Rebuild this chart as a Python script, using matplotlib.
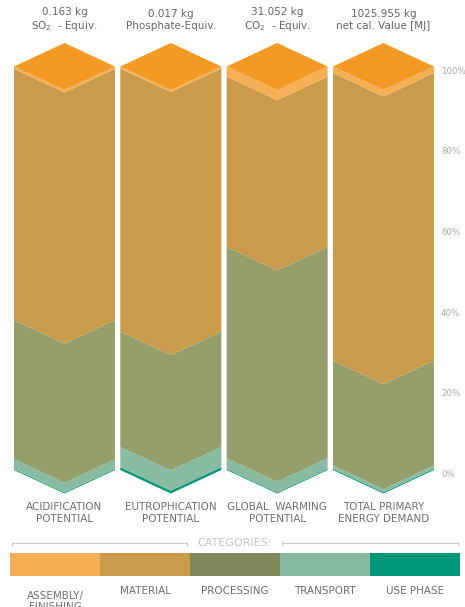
import matplotlib.pyplot as plt
from matplotlib.patches import Polygon
from matplotlib.lines import Line2D
from matplotlib.transforms import blended_transform_factory as blend

plt.rcParams['font.family'] = ['Liberation Sans Narrow', 'DejaVu Sans']

# Data (percent of each impact category)
columns = ['ACIDIFICATION\nPOTENTIAL', 'EUTROPHICATION\nPOTENTIAL',
           'GLOBAL  WARMING\nPOTENTIAL', 'TOTAL PRIMARY\nENERGY DEMAND']
headers = ['0.163 kg\nSO$_2$  - Equiv.', '0.017 kg\nPhosphate-Equiv.',
           '31.052 kg\nCO$_2$  - Equiv.', '1025.955 kg\nnet cal. Value [MJ]']
# stacked from bottom: use phase, transport, processing, material, assembly
use_phase = [0.25, 0.7, 0.25, 0.3]
transport = [2.4, 5.0, 2.65, 0.8]
processing = [34.5, 28.6, 52.4, 26.0]
material = [62.25, 65.2, 42.2, 71.3]
assembly = [0.6, 0.5, 2.5, 1.6]

categories = ['ASSEMBLY/\nFINISHING', 'MATERIAL', 'PROCESSING', 'TRANSPORT', 'USE PHASE']
yticks = [0, 20, 40, 60, 80, 100]

col_colors = ['#00967A', '#89BBA3', '#949F6B', '#C99B4A', '#F5AF55']
legend_colors = ['#F5AF55', '#C99B4A', '#7F8859', '#89BBA3', '#00967A']
cap_color = '#F39A25'

W, H = 465, 607
fig = plt.figure(figsize=(W / 100, H / 100), dpi=100)

# main axes: 0% sits at px 470, 100% at px 66.5
ppu = (470 - 66.5) / 100
ylo, yhi = -8, 108
top_px = 66.5 - (yhi - 100) * ppu
bot_px = 470 + (0 - ylo) * ppu
ax = fig.add_axes([11.35 / W, (H - bot_px) / H, (436.6 - 11.35) / W, (bot_px - top_px) / H])
ax.set_xlim(-0.5, 3.5)
ax.set_ylim(ylo, yhi)
ax.axis('off')

half = 0.475
dip = 23.5 / ppu  # depth of the chevron "3D" look

series = [use_phase, transport, processing, material, assembly]
xfig = blend(ax.transData, fig.transFigure)
for i in range(len(columns)):
    x0, xc, x1 = i - half, i, i + half
    base = 0
    for vals, c in zip(series, col_colors):
        top = base + vals[i]
        poly = [(x0, base), (xc, base - dip), (x1, base), (x1, top), (xc, top - dip), (x0, top)]
        ax.add_patch(Polygon(poly, closed=True, facecolor=c, edgecolor='none'))
        base = top
    cap = [(x0, base), (xc, base + dip), (x1, base), (xc, base - dip)]
    ax.add_patch(Polygon(cap, closed=True, facecolor=cap_color, edgecolor='none'))

    ax.text(i, 1 - 20 / H, headers[i], transform=xfig, ha='center', va='center',
            fontsize=7.5, color='#666666', linespacing=1.2)
    ax.text(i, 1 - 513 / H, columns[i], transform=xfig, ha='center', va='center',
            fontsize=7.5, color='#707070', linespacing=1.15)

yfig = blend(fig.transFigure, ax.transData)
for t in yticks:
    ax.text(441 / W, t, f'{t}%', transform=yfig, ha='left', va='top',
            fontsize=6.2, color='#aaaaaa')

# "CATEGORIES:" divider
fig.text(235 / W, 1 - 543 / H, 'CATEGORIES:', ha='center', va='center', fontsize=8, color='#c4c4c4')
for xa, xb in [(12, 187), (282, 458)]:
    fig.add_artist(Line2D([xa / W, xb / W], [1 - 543 / H] * 2, color='#c8c8c8', lw=0.8))
    for xe in (xa, xb):
        fig.add_artist(Line2D([xe / W] * 2, [1 - 541.5 / H, 1 - 544.5 / H], color='#c8c8c8', lw=0.8))

# legend bar
lax = fig.add_axes([10 / W, (H - 576) / H, 450 / W, 23 / H])
lax.barh(0, [1] * len(categories), left=range(len(categories)), height=1,
         color=legend_colors, edgecolor='none')
lax.set_xlim(0, len(categories))
lax.set_ylim(-0.5, 0.5)
lax.axis('off')
lfig = blend(lax.transData, fig.transFigure)
for k, name in enumerate(categories):
    lax.text(k + 0.5, 1 - 591 / H, name, transform=lfig,
             ha='center', va='top' if '\n' in name else 'center', fontsize=7.5,
             color='#707070', linespacing=1.15)

fig.savefig('out.png', dpi=100)
